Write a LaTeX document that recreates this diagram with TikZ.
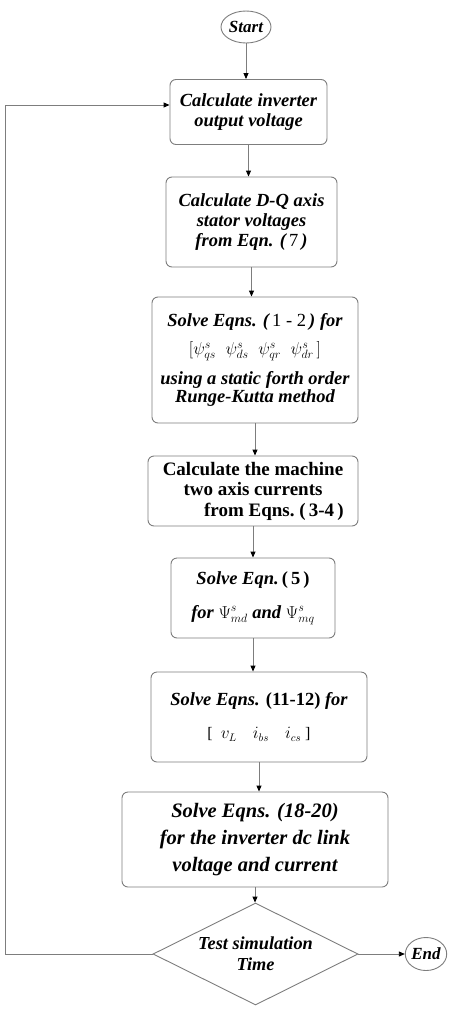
\documentclass[tikz,border=0pt]{standalone}
\usepackage{fontspec}
\setmainfont{Liberation Serif}
\usetikzlibrary{shapes.geometric,arrows.meta}
\definecolor{linegray}{RGB}{125,125,125}
\begin{document}
\begin{tikzpicture}[x=1pt,y=-1pt,
  box/.style={draw=linegray, line width=0.9pt, rounded corners=6pt, align=center,
    font=\bfseries\itshape\fontsize{18.5}{20}\selectfont, inner sep=2pt},
  term/.style={draw=linegray, line width=0.9pt, ellipse, inner sep=0pt,
    font=\bfseries\itshape\fontsize{17}{19}\selectfont},
  decision/.style={draw=linegray, line width=0.9pt, diamond, aspect=2, inner sep=0pt, align=center,
    font=\bfseries\itshape\fontsize{18.3}{21}\selectfont},
  flow/.style={draw=linegray, line width=0.9pt, -{Triangle[length=6pt,width=5pt,color=black]}},
  ]
\useasboundingbox (0,0) rectangle (450,1012);
\node[term, minimum width=50pt, minimum height=32pt] (start) at (246,27) {Start};
\node[box, minimum width=157pt, minimum height=65pt] (b1) at (248.5,112) {Calculate inverter\\ output voltage};
\node[box, minimum width=171pt, minimum height=90pt] (b2) at (251.5,222) {Calculate D-Q axis\\ stator voltages\\ from Eqn. ({\mdseries\upshape\,7\,})};
\node[box, minimum width=206pt, minimum height=126pt] (b3) at (255,360) {Solve Eqns. ({\mdseries\upshape\,1 - 2\,}) for\\[8pt] {\mdseries\upshape\fontsize{17.5}{19}\selectfont$[\psi^s_{qs}\;\;\psi^s_{ds}\;\;\psi^s_{qr}\;\;\psi^s_{dr}\,]$}\\[10pt] using a static forth order\\[-2pt] Runge-Kutta method};
\node[box, minimum width=210pt, minimum height=70pt, font=\bfseries\fontsize{19}{20.5}\selectfont] (b4) at (253,491) {Calculate the machine\\ two axis currents\\ \hspace*{2.2em}from Eqns.\ (\,3-4\,)};
\node[box, minimum width=164pt, minimum height=80pt] (b5) at (253,598) {Solve Eqn.\,{\upshape (\,5\,)}\\[14pt] for {\mdseries\upshape$\Psi^s_{md}$} and {\mdseries\upshape$\Psi^s_{mq}$}};
\node[box, minimum width=216pt, minimum height=90pt] (b6) at (259,717) {Solve Eqns. {\upshape (11-12)} for\\[13pt] {\mdseries\upshape\fontsize{16}{18}\selectfont[\ \ $v_L$\quad $i_{bs}$\quad $i_{cs}$\ ]}};
\node[box, minimum width=266pt, minimum height=95pt, font=\bfseries\itshape\fontsize{20.5}{27}\selectfont] (b7) at (255,839.5) {Solve Eqns. (18-20)\\ for the inverter dc link\\ voltage and current};
\node[decision, minimum width=205pt, minimum height=102pt] (dec) at (255.5,954) {Test simulation\\ Time};
\node[term, minimum width=38pt, minimum height=33pt] (end) at (426,954) {End};
\coordinate (loop) at (5,954);
\draw[flow] (start) -- (start |- b1.north);
\draw[flow] (b1.south) -- (b1.south |- b2.north);
\draw[flow] (b2.south) -- (b2.south |- b3.north);
\draw[flow] (b3.south) -- (b3.south |- b4.north);
\draw[flow] (b4.south) -- (b4.south |- b5.north);
\draw[flow] (b5.south) -- (b5.south |- b6.north);
\draw[flow] (b6.south) -- (b6.south |- b7.north);
\draw[flow] (b7.south) -- (b7.south |- dec.north);
\draw[flow] (dec.east) -- (end.west);
\draw[flow] (dec.west) -- (loop) |- ([yshift=7pt]b1.west);
\end{tikzpicture}
\end{document}
